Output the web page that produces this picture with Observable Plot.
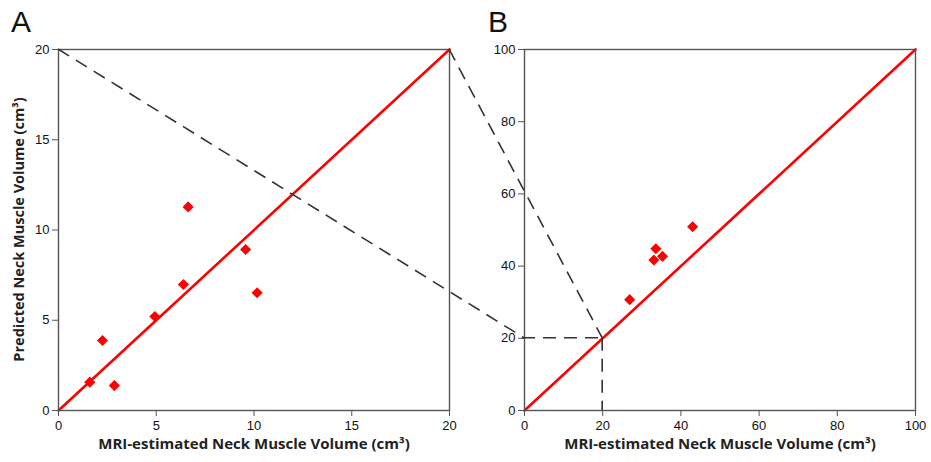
<!DOCTYPE html>
<html>
<head>
<meta charset="utf-8">
<script src="https://cdn.jsdelivr.net/npm/d3@7"></script>
<script src="https://cdn.jsdelivr.net/npm/@observablehq/plot@0.6"></script>
<style>
  html, body { margin: 0; padding: 0; background: #fff; }
  #wrap { position: relative; width: 931px; height: 462px; overflow: hidden; }
  #wrap > svg, #wrap > figure { position: absolute; top: 0; margin: 0; }
  #wrap svg g[aria-label$="tick label"] { font-size: 13px !important; font-family: 'Liberation Sans', Arial, sans-serif !important; fill: #111; }
</style>
</head>
<body>
<div id="wrap"></div>
<script>
// ---- data ----
const panelLabels = ["A", "B"];
const xLabel = "MRI-estimated Neck Muscle Volume (cm³)";
const yLabel = "Predicted  Neck Muscle Volume (cm³)";

const ticksA = [0, 5, 10, 15, 20];
const ticksB = [0, 20, 40, 60, 80, 100];

const measuredA  = [1.6, 2.25, 2.86, 4.93, 6.39, 6.63, 9.57, 10.16];
const predictedA = [1.57, 3.88, 1.38, 5.21, 6.98, 11.28, 8.92, 6.52];

const measuredB  = [26.9, 33.6, 33.1, 35.3, 43.0];
const predictedB = [30.7, 44.8, 41.7, 42.7, 50.9];

const identityA = [0, 20];
const identityB = [0, 100];
const zoomCorner = [0, 20]; // region of panel A shown inside panel B

// ---- layout ----
const W = 931, H = 462;
const leftA = 0, widthA = 465;
const leftB = 465, widthB = 466;
const mTop = 49, mBottom = 52;
const frameColor = "#555";
const tickFont = "'Liberation Sans', Arial, sans-serif";
const labelFont = "'Open Sans', 'Noto Sans', sans-serif";

function panel(width, marginLeft, ticks, mx, my, identity) {
  const pts = mx.map((d, i) => ({x: d, y: my[i]}));
  const diag = identity.map(v => ({x: v, y: v}));
  const dom = [ticks[0], ticks[ticks.length - 1]];
  return Plot.plot({
    width, height: H,
    marginLeft, marginRight: 16, marginTop: mTop, marginBottom: mBottom,
    style: {fontFamily: tickFont, fontSize: "13px", color: "#1a1a1a", background: "transparent", overflow: "visible"},
    x: {domain: dom, ticks, label: null},
    y: {domain: dom, ticks, label: null},
    marks: [
      Plot.line(diag, {x: "x", y: "y", stroke: "#ff0000", strokeWidth: 2.6}),
      Plot.dot(pts, {x: "x", y: "y", symbol: "diamond2", r: 5, fill: "#ff0000", stroke: "none"}),
      Plot.frame({stroke: frameColor, strokeWidth: 1.4}),
      Plot.axisX({ticks, tickSize: 6, tickPadding: 4, stroke: frameColor, label: null}),
      Plot.axisY({ticks, tickSize: 6, tickPadding: 3, stroke: frameColor, label: null}),
      Plot.text([xLabel], {frameAnchor: "bottom", dy: 38, text: d => d, fontFamily: labelFont, fontWeight: "bold", fontSize: 15, fill: "#222"})
    ]
  });
}

const wrap = document.getElementById("wrap");
const plotA = panel(widthA, 58, ticksA, measuredA, predictedA, identityA);
const plotB = panel(widthB, 59, ticksB, measuredB, predictedB, identityB);
plotA.style.left = leftA + "px";
plotB.style.left = leftB + "px";
wrap.appendChild(plotA);
wrap.appendChild(plotB);

// ---- overlay: y label, panel letters, zoom connector lines ----
const ax = v => leftA + plotA.scale("x").apply(v);
const ay = v => plotA.scale("y").apply(v);
const bx = v => leftB + plotB.scale("x").apply(v);
const by = v => plotB.scale("y").apply(v);

const svg = d3.select(wrap).append("svg")
  .attr("width", W).attr("height", H)
  .style("left", "0px").style("pointer-events", "none");

const lo = zoomCorner[0], hi = zoomCorner[1];
const dash = {stroke: "#333", "stroke-width": 1.6, "stroke-dasharray": "13,8", fill: "none"};
const segs = [
  [ax(lo), ay(hi), bx(lo), by(hi)],
  [ax(hi), ay(hi), bx(hi), by(hi)],
  [bx(lo) - 2, by(hi), bx(hi), by(hi)],
  [bx(hi), by(hi), bx(hi), by(lo)]
];
svg.selectAll("line.conn").data(segs).join("line")
  .attr("class", "conn")
  .attr("x1", d => d[0]).attr("y1", d => d[1])
  .attr("x2", d => d[2]).attr("y2", d => d[3])
  .each(function() { const s = d3.select(this); for (const k in dash) s.attr(k, dash[k]); });

// y-axis label of panel A
const yMid = (ay(lo) + ay(hi)) / 2;
svg.append("text")
  .attr("transform", `translate(20,${yMid}) rotate(-90)`)
  .attr("text-anchor", "middle").attr("dominant-baseline", "middle")
  .attr("font-family", labelFont).attr("font-weight", "bold").attr("font-size", 14.5)
  .attr("fill", "#222").text(yLabel);

// panel letters
svg.selectAll("text.letter").data([[11, panelLabels[0]], [488, panelLabels[1]]]).join("text")
  .attr("class", "letter")
  .attr("x", d => d[0]).attr("y", 32)
  .attr("font-family", "'Liberation Sans', Arial, sans-serif").attr("font-size", 30)
  .attr("fill", "#111").text(d => d[1]);
</script>
</body>
</html>
